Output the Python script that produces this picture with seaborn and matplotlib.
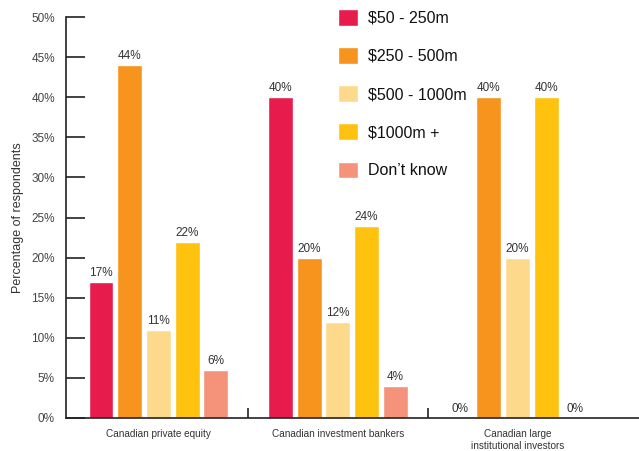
import matplotlib
matplotlib.use("Agg")
import matplotlib.pyplot as plt
import seaborn as sns
import pandas as pd
from matplotlib.ticker import FixedLocator, PercentFormatter

# Survey responses by group and deal-size bracket (percent of respondents)
groups = ["Canadian private equity", "Canadian investment bankers",
          "Canadian large\ninstitutional investors"]
brackets = ["$50 - 250m", "$250 - 500m", "$500 - 1000m", "$1000m +", "Don\u2019t know"]
private_equity = [17, 44, 11, 22, 6]
investment_bankers = [40, 20, 12, 24, 4]
institutional_investors = [0, 40, 20, 40, 0]
colors = ["#E81C4C", "#F7941D", "#FDD98C", "#FFC20E", "#F5937A"]

rows = []
for g, vals in zip(groups, [private_equity, investment_bankers, institutional_investors]):
    for b, v in zip(brackets, vals):
        rows.append({"group": g, "bracket": b, "pct": v})
df = pd.DataFrame(rows)

sns.set_theme(style="white")
plt.rcParams["font.family"] = ["Liberation Sans", "DejaVu Sans"]

fig = plt.figure(figsize=(6.39, 4.51), dpi=100)
ax = fig.add_axes([66 / 639, 33 / 451, 573 / 639, 401 / 451])

sns.barplot(data=df, x="group", y="pct", hue="bracket", order=groups,
            hue_order=brackets, palette=colors, width=0.8, gap=0.13,
            saturation=1, ax=ax, legend=True)

for cont in ax.containers:
    ax.bar_label(cont, labels=[f"{v:g}%" for v in cont.datavalues],
                 padding=2, fontsize=8.5, color="#333333")

ax.set_ylim(0, 50)
ax.set_xlim(-0.515, 2.677)
ax.set_yticks(range(0, 51, 5))
ax.yaxis.set_major_formatter(PercentFormatter(decimals=0))
ax.tick_params(axis="y", direction="in", length=14, width=1.2, color="#222222",
               labelsize=8.5, labelcolor="#444444", pad=8, left=True)

ax.set_xticks(range(len(groups)))
ax.set_xticklabels(groups, fontsize=7.2, color="#333333")
ax.tick_params(axis="x", which="major", length=0, pad=8)
ax.xaxis.set_minor_locator(FixedLocator([0.5, 1.5]))
ax.tick_params(axis="x", which="minor", direction="in", length=7, width=1.2,
               color="#222222", bottom=True)

ax.set_xlabel("")
ax.set_ylabel("Percentage of respondents", fontsize=9, color="#333333", labelpad=5)

for side in ["top", "right"]:
    ax.spines[side].set_visible(False)
for side in ["left", "bottom"]:
    ax.spines[side].set_color("#222222")
    ax.spines[side].set_linewidth(1.2)

handles, labels = ax.get_legend_handles_labels()
leg = ax.legend(handles, labels, loc="upper left",
                bbox_to_anchor=(338 / 639, 1 - 9 / 451), bbox_transform=fig.transFigure,
                frameon=False, fontsize=11.5, handlelength=1.25, handleheight=1.25,
                handletextpad=0.6, labelspacing=1.33, borderpad=0, borderaxespad=0)
for t in leg.get_texts():
    t.set_color("#111111")

fig.savefig("out.png", dpi=100)
